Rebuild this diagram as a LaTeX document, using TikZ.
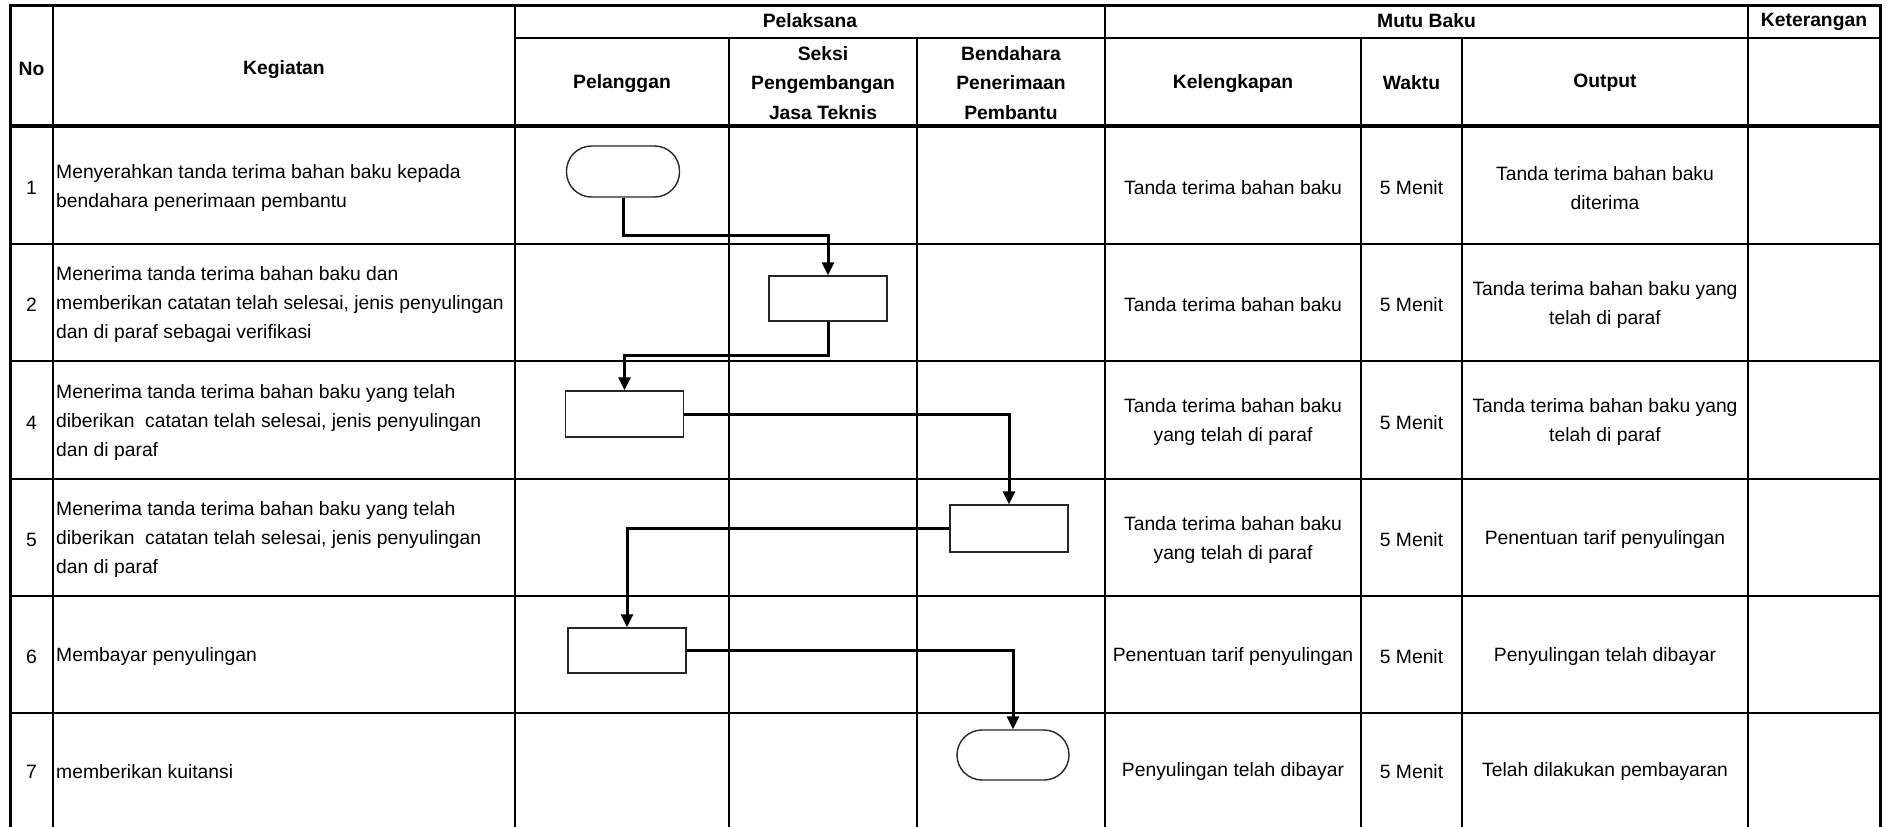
\documentclass[tikz,border=0pt]{standalone}
\usepackage{fontspec}
\setmainfont{Liberation Sans}
\usetikzlibrary{arrows.meta}

\begin{document}
\begin{tikzpicture}[
    x=1pt, y=-1pt,
    every node/.style={font=\fontsize{19.3}{29}\selectfont, inner sep=0pt},
    head/.style={font=\fontsize{19.3}{29.5}\selectfont\bfseries, align=center},
    cell/.style={align=center},
    kegiatan/.style={align=left, anchor=west},
    grid/.style={line width=2pt},
    border/.style={line width=3pt},
    proc/.style={rectangle, draw=black!85, line width=1.4pt, minimum width=118pt, minimum height=46pt},
    term/.style={proc, minimum width=113pt, minimum height=51pt, rounded corners=25pt},
    flow/.style={line width=3pt, -{Triangle[length=13pt,width=12pt]}}
  ]
  \useasboundingbox (0,0) rectangle (1890,827);

  % table
  \draw[border] (10,827) -- (10,5) -- (1880,5) -- (1880,827);
  \draw[line width=3.5pt] (10,126) -- (1880,126);
  \draw[grid] (515,38) -- (1880,38);
  \foreach \y in {244,361,479,596,713}
    \draw[grid] (10,\y) -- (1880,\y);
  \foreach \x in {53,515,1105,1748}
    \draw[grid] (\x,5) -- (\x,827);
  \foreach \x in {729,917,1361,1462}
    \draw[grid] (\x,38) -- (\x,827);

  % header
  \node[head] (hno) at (31.5,69) {No};
  \node[head] (hkeg) at (284,70) {Kegiatan};
  \node[head] (hpel) at (810,21) {Pelaksana};
  \node[head] (hmutu) at (1426.5,21) {Mutu Baku};
  \node[head] (hket) at (1814,22) {Keterangan};
  \node[head] (hplg) at (622,84) {Pelanggan};
  \node[head] (hseksi) at (823,83) {Seksi\\Pengembangan\\Jasa Teknis};
  \node[head] (hbend) at (1011,83) {Bendahara\\Penerimaan\\Pembantu};
  \node[head] (hkel) at (1233,84) {Kelengkapan};
  \node[head] (hwkt) at (1411.5,83) {Waktu};
  \node[head] (hout) at (1605,83) {Output};

  % rows
  \foreach \no/\y in {1/187.5, 2/305, 4/422.5, 5/540, 6/657, 7/772} {
    \node[cell] (no\no) at (31.5,\y) {\no};
    \node[cell] (wkt\no) at (1411.5,\y) {5 Menit};
  }
  \node[kegiatan] (keg1) at (56,188.5) {Menyerahkan tanda terima bahan baku kepada\\bendahara penerimaan pembantu};
  \node[kegiatan] (keg2) at (56,305) {Menerima tanda terima bahan baku dan\\memberikan catatan telah selesai, jenis penyulingan\\dan di paraf sebagai verifikasi};
  \node[kegiatan] (keg4) at (56,422.5) {Menerima tanda terima bahan baku yang telah\\diberikan\ \ catatan telah selesai, jenis penyulingan\\dan di paraf};
  \node[kegiatan] (keg5) at (56,540) {Menerima tanda terima bahan baku yang telah\\diberikan\ \ catatan telah selesai, jenis penyulingan\\dan di paraf};
  \node[kegiatan] (keg6) at (56,657) {Membayar penyulingan};
  \node[kegiatan] (keg7) at (56,772) {memberikan kuitansi};

  \node[cell] (kel1) at (1233,187.5) {Tanda terima bahan baku};
  \node[cell] (kel2) at (1233,305) {Tanda terima bahan baku};
  \node[cell] (kel4) at (1233,422.5) {Tanda terima bahan baku\\yang telah di paraf};
  \node[cell] (kel5) at (1233,540) {Tanda terima bahan baku\\yang telah di paraf};
  \node[cell] (kel6) at (1233,657) {Penentuan tarif penyulingan};
  \node[cell] (kel7) at (1233,772) {Penyulingan telah dibayar};

  \node[cell] (out1) at (1605,188.5) {Tanda terima bahan baku\\diterima};
  \node[cell] (out2) at (1605,305) {Tanda terima bahan baku yang\\telah di paraf};
  \node[cell] (out4) at (1605,422.5) {Tanda terima bahan baku yang\\telah di paraf};
  \node[cell] (out5) at (1605,540) {Penentuan tarif penyulingan};
  \node[cell] (out6) at (1605,657) {Penyulingan telah dibayar};
  \node[cell] (out7) at (1605,772) {Telah dilakukan pembayaran};

  % flowchart
  \node[term] (t1) at (623,171.5) {};
  \node[proc, minimum height=45pt] (p2) at (828,298.5) {};
  \node[proc] (p4) at (624.5,414) {};
  \node[proc, minimum height=47pt] (p5) at (1009,528.5) {};
  \node[proc, minimum height=45pt] (p6) at (627,650.5) {};
  \node[term, minimum width=112pt, minimum height=50pt] (t7) at (1013,755) {};

  \draw[flow] (t1.south) -- ++(0,38) -| (p2.north);
  \draw[flow] (p2.south) -- ++(0,34) -| (p4.north);
  \draw[flow] (p4.east) -| (p5.north);
  \draw[flow] (p5.west) -| (p6.north);
  \draw[flow] (p6.east) -| (t7.north);
\end{tikzpicture}
\end{document}
